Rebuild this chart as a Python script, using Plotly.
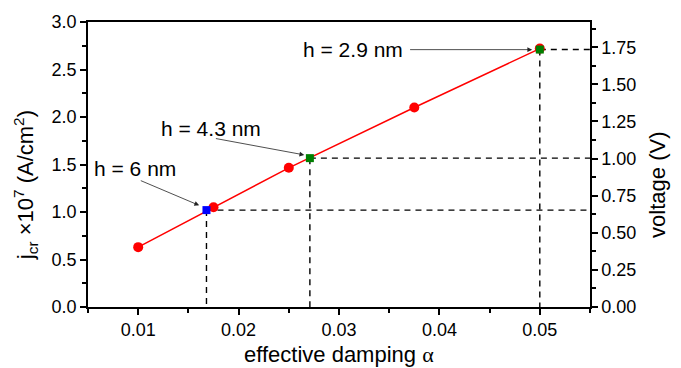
import plotly.graph_objects as go

# data
alpha = [0.01, 0.0175, 0.025, 0.0375, 0.05]
jcr = [0.63, 1.05, 1.465, 2.10, 2.72]

sq_alpha = [0.0168, 0.0271, 0.05]
sq_jcr = [1.02, 1.567, 2.71]
sq_volt = [0.65, 1.00, 1.73]
sq_colors = ["#0000ff", "#007f00", "#007f00"]
sq_labels = ["h = 6 nm", "h = 4.3 nm", "h = 2.9 nm"]

x_ticks = [0.01, 0.02, 0.03, 0.04, 0.05]
y_ticks = [0.0, 0.5, 1.0, 1.5, 2.0, 2.5, 3.0]
v_ticks = [0.0, 0.25, 0.5, 0.75, 1.0, 1.25, 1.5, 1.75]

X_RANGE = [0.005, 0.055]
Y_RANGE = [0.0, 3.0]
V_RANGE = [0.0, 1.92]

# label / arrow geometry (data coordinates)
label_pos = [(0.00969, 1.457), (0.01726, 1.879), (0.03142, 2.709)]
arrow_tail = [(0.01011, 1.337), (0.01759, 1.776), (0.03693, 2.709)]
arrow_head = [(0.01607, 1.07), (0.02654, 1.601), (0.04924, 2.709)]

FONT = "Liberation Sans, Arial, sans-serif"

fig = go.Figure()

# dashed guide lines
for xa, yj in zip(sq_alpha, sq_jcr):
    fig.add_trace(go.Scatter(x=[xa, X_RANGE[1]], y=[yj, yj], mode="lines",
                             line=dict(color="black", width=1.4, dash="6px,5px"),
                             showlegend=False, hoverinfo="skip"))
    fig.add_trace(go.Scatter(x=[xa, xa], y=[yj, 0], mode="lines",
                             line=dict(color="black", width=1.4, dash="6px,5px"),
                             showlegend=False, hoverinfo="skip"))

fig.add_trace(go.Scatter(x=alpha, y=jcr, mode="lines+markers",
                         line=dict(color="#ff0000", width=1.5),
                         marker=dict(color="#ff0000", size=10, symbol="circle"),
                         showlegend=False))

fig.add_trace(go.Scatter(x=sq_alpha, y=sq_jcr, mode="markers",
                         marker=dict(color=sq_colors, size=8, symbol="square"),
                         showlegend=False))

# invisible trace for the right axis
fig.add_trace(go.Scatter(x=[sq_alpha[0]], y=[sq_volt[0]], yaxis="y2", mode="markers",
                         marker=dict(opacity=0), showlegend=False, hoverinfo="skip"))

annotations = []
for (lx, ly), txt in zip(label_pos, sq_labels):
    annotations.append(dict(x=lx, y=ly, xref="x", yref="y", text=txt, showarrow=False,
                            xanchor="center", yanchor="middle",
                            font=dict(family=FONT, size=21, color="black")))
for (tx, ty), (hx, hy) in zip(arrow_tail, arrow_head):
    annotations.append(dict(x=hx, y=hy, ax=tx, ay=ty, xref="x", yref="y", axref="x", ayref="y",
                            text="", showarrow=True, arrowhead=2, arrowsize=1.2, arrowwidth=0.8,
                            arrowcolor="#222222"))

annotations.append(dict(x=-0.1255, y=0.4275, xref="paper", yref="paper", textangle=-90,
                        xanchor="center", yanchor="middle",
                        text="j<sub>cr</sub> ×10<sup>7</sup> (A/cm<sup>2</sup>)", showarrow=False,
                        font=dict(family=FONT, size=22, color="black")))
annotations.append(dict(x=1.133, y=0.4275, xref="paper", yref="paper", textangle=-90,
                        xanchor="center", yanchor="middle",
                        text="voltage (V)", showarrow=False,
                        font=dict(family=FONT, size=22, color="black")))
annotations.append(dict(x=0.5, y=-0.166, xref="paper", yref="paper",
                        xanchor="center", yanchor="middle",
                        text="effective damping <span style='font-family:Liberation Serif'>α</span>",
                        showarrow=False, font=dict(family=FONT, size=22, color="black")))

axis_common = dict(showgrid=False, zeroline=False, showline=True, linecolor="black", linewidth=1.5,
                   ticks="outside", ticklen=6, tickwidth=1.5, tickcolor="black",
                   tickfont=dict(family=FONT, size=18, color="black"))

fig.update_layout(
    width=681, height=368,
    margin=dict(l=88, r=91, t=15, b=61),
    paper_bgcolor="white", plot_bgcolor="white",
    xaxis=dict(range=X_RANGE, tickvals=x_ticks, ticktext=[f"{v:.2f}" for v in x_ticks],
               mirror=True,
               minor=dict(dtick=0.005, tick0=0.005, ticks="outside", ticklen=4, tickwidth=1.5, tickcolor="black"),
               **axis_common),
    yaxis=dict(range=Y_RANGE, tickvals=y_ticks, ticktext=[f"{v:.1f}" for v in y_ticks],
               minor=dict(dtick=0.25, tick0=0, ticks="outside", ticklen=4, tickwidth=1.5, tickcolor="black"),
               **axis_common),
    yaxis2=dict(range=V_RANGE, overlaying="y", side="right", anchor="x",
                tickvals=v_ticks, ticktext=[f"{v:.2f}" for v in v_ticks],
                minor=dict(dtick=0.125, tick0=0, ticks="outside", ticklen=4, tickwidth=1.5, tickcolor="black"),
                **axis_common),
    annotations=annotations,
)

fig.write_html("out.html")
